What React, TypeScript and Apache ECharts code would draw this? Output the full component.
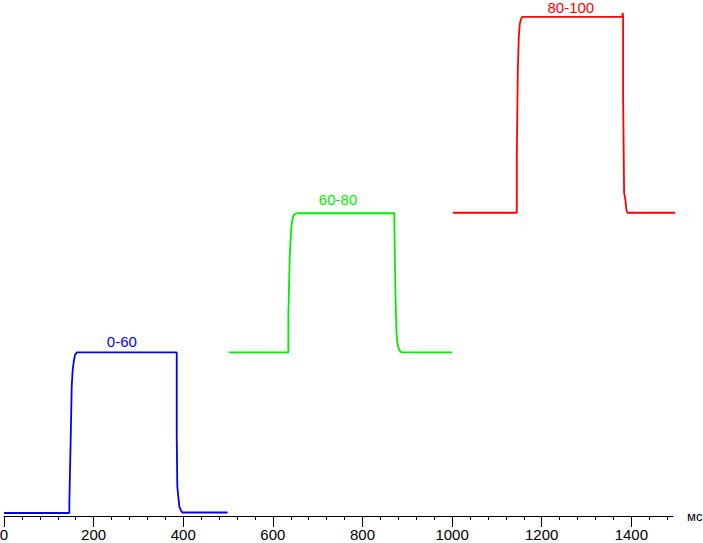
import React, { useEffect, useRef } from "react";
import * as echarts from "echarts";

const xTicks = { min: 0, max: 1493, interval: 200, minorSplit: 5 };
const majorTicks = [0, 200, 400, 600, 800, 1000, 1200, 1400];
const yRange = { min: -0.6, max: 103 };

const blueData: [number, number][] = [
  [0, 0], [145.8, 0], [145.8, 2], [148.9, 15.1], [151.1, 25.4], [153.3, 28.8],
  [155.6, 30.4], [158.5, 31.8], [162.3, 32.3], [167.4, 32.3], [385.5, 32.3],
  [385.5, 15.1], [386.8, 5.3], [389, 3.3], [391.3, 1.3], [394.4, 0.6], [398, 0.1], [499, 0.1],
];
const greenData: [number, number][] = [
  [502, 32.3], [634.6, 32.3], [634.6, 39.8], [637.7, 51.6], [640.6, 56.9], [642.9, 58.6],
  [645.1, 59.6], [648, 60.1], [654.7, 60.3], [871.2, 60.3], [871.2, 58.1], [873.4, 45],
  [875.7, 36.5], [877.9, 34.3], [880.1, 33.3], [882.4, 32.8], [885.5, 32.4], [890, 32.3], [1000, 32.3],
];
const redData: [number, number][] = [
  [1002, 60.4], [1144.4, 60.4], [1144.4, 71.8], [1146.7, 89.1], [1148.9, 95.8], [1151.1, 98.4],
  [1153.3, 99.2], [1156.3, 99.8], [1380, 99.8], [1380.5, 100.6], [1381.7, 99.8], [1381.7, 83.4],
  [1383.9, 64.4], [1386.8, 63], [1389, 61], [1391.3, 60.4], [1499, 60.4],
];

const seriesNames = ["0-60", "60-80", "80-100"];
const seriesColors = ["#0000ff", "#00ee00", "#ff0000"];
const labelCoords: [number, number][] = [[263, 34.6], [745.5, 63], [1265, 101.6]];
const unitName = "мс";

export default function App() {
  const ref = useRef<HTMLDivElement>(null);
  useEffect(() => {
    if (!ref.current) return;
    const chart = echarts.init(ref.current, null, { renderer: "svg" });
    const font = "'Liberation Sans', Arial, sans-serif";
    const datas = [blueData, greenData, redData];
    chart.setOption({
      animation: false,
      backgroundColor: "#ffffff",
      grid: { left: 4, right: 30, top: 1, bottom: 27, containLabel: false, outerBoundsMode: "none" },
      xAxis: {
        type: "value",
        min: xTicks.min,
        max: xTicks.max,
        interval: xTicks.interval,
        name: unitName,
        nameLocation: "end",
        nameGap: 14,
        nameTextStyle: { color: "#000", fontSize: 13, fontFamily: font, verticalAlign: "middle" },
        axisLine: { show: true, onZero: false, lineStyle: { color: "#000", width: 1 } },
        axisTick: { show: true, length: 11, customValues: majorTicks, lineStyle: { color: "#000", width: 1 } },
        minorTick: { show: true, splitNumber: xTicks.minorSplit, length: 4, lineStyle: { color: "#000", width: 1 } },
        splitLine: { show: false },
        minorSplitLine: { show: false },
        axisLabel: {
          color: "#000",
          fontSize: 15,
          fontFamily: font,
          margin: 11,
          showMaxLabel: false,
          formatter: (v: number) => String(v),
        },
      },
      yAxis: {
        type: "value",
        min: yRange.min,
        max: yRange.max,
        show: false,
        splitLine: { show: false },
      },
      series: datas.map((d, i) => ({
        type: "line",
        name: seriesNames[i],
        data: d,
        showSymbol: false,
        symbol: "none",
        clip: false,
        lineStyle: { color: seriesColors[i], width: 1.8 },
        itemStyle: { color: seriesColors[i] },
        markPoint: {
          symbol: "circle",
          symbolSize: 0,
          silent: true,
          data: [{ coord: labelCoords[i] }],
          label: {
            show: true,
            position: "inside",
            formatter: seriesNames[i],
            color: seriesColors[i],
            fontSize: 15,
            fontFamily: font,
          },
        },
      })),
    });
    return () => chart.dispose();
  }, []);
  return (
    <div
      ref={ref}
      style={{ position: "fixed", left: 0, top: 0, width: 703, height: 543 }}
    />
  );
}
